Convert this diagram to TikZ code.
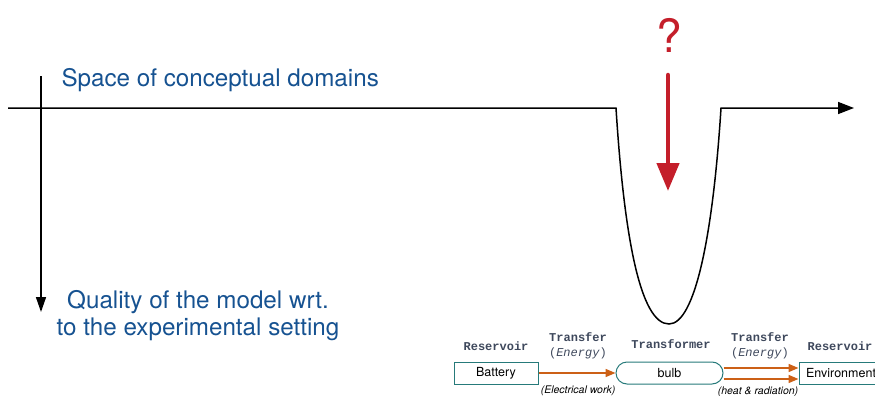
\documentclass[tikz,border=0pt]{standalone}
\usepackage{fontspec}
\setmainfont{TeX Gyre Heros}
\newfontfamily\codefont{Liberation Mono}
\usetikzlibrary{arrows.meta,shapes.misc,positioning}

\definecolor{axisblue}{RGB}{22,82,145}
\definecolor{qred}{RGB}{196,30,42}
\definecolor{rolegray}{RGB}{62,72,92}
\definecolor{boxteal}{RGB}{38,122,122}
\definecolor{floworange}{RGB}{204,96,22}

\tikzset{
  axislabel/.style={text=axisblue, font=\fontsize{24.2}{27}\selectfont, align=center},
  rolelabel/.style={text=rolegray, font=\codefont\bfseries\fontsize{12}{15}\selectfont, align=center, inner sep=0pt},
  unitbox/.style={draw=boxteal, line width=1pt, minimum width=84pt, minimum height=22pt, inner sep=0pt, font=\fontsize{12.5}{14}\selectfont},
  flow/.style={draw=floworange, line width=1.6pt, -{Triangle[length=10pt,width=8pt]}},
  flowlabel/.style={font=\itshape\fontsize{10.5}{11}\selectfont, inner sep=0pt},
}

\begin{document}
\begin{tikzpicture}[x=1pt,y=-1pt]
\useasboundingbox (0,0) rectangle (875,396);

% axes
\coordinate (hstart) at (8,108);
\coordinate (wellL) at (616,108);
\coordinate (wellB) at (669,324);
\coordinate (wellR) at (721,108);
\coordinate (hend) at (854,108);
\coordinate (vstart) at (41,76);
\coordinate (vend) at (41,312);

\draw[line width=1.5pt,-{Triangle[length=16pt,width=12pt]}] (hstart) -- (wellL)
  .. controls (624,235) and (640,324) .. (wellB)
  .. controls (695,324) and (713,235) .. (wellR) -- (hend);
\draw[line width=1.5pt,-{Triangle[length=15pt,width=10pt]}] (vstart) -- (vend);

\node[axislabel,anchor=west] (space) at (58,80) {Space of conceptual domains};
\node[axislabel] (quality) at (198,316) {Quality of the model wrt.\\to the experimental setting};

% question
\node[text=qred,font=\fontsize{46}{50}\selectfont] (ques) at (669,35) {?};
\coordinate (qtop) at (668,75);
\coordinate (qtip) at (668,191);
\draw[qred,line width=4.5pt,line cap=round,-{Triangle[length=28pt,width=22pt]}] (qtop) -- (qtip);

% model
\node[unitbox] (battery) at (496,373) {Battery};
\node[unitbox,rounded rectangle,minimum width=107pt] (bulb) at (669.5,373) {bulb};
\node[unitbox] (env) at (841,373) {Environment};

\node[rolelabel] (res1) at (496,346) {Reservoir};
\node[rolelabel] (tr1) at (578,346) {Transfer\\{\mdseries(\textit{Energy})}};
\node[rolelabel] (trans) at (671,344) {Transformer};
\node[rolelabel] (tr2) at (760,346) {Transfer\\{\mdseries(\textit{Energy})}};
\node[rolelabel] (res2) at (840,346) {Reservoir};

\draw[flow] (battery.east) -- (bulb.west);
\draw[flow] ([yshift=5pt]bulb.east) -- ([yshift=5pt]env.west);
\draw[flow] ([yshift=-6pt]bulb.east) -- ([yshift=-6pt]env.west);

\node[flowlabel] (elec) at (578,391) {(Electrical work)};
\node[flowlabel] (heat) at (758,392) {(heat \& radiation)};
\end{tikzpicture}
\end{document}
